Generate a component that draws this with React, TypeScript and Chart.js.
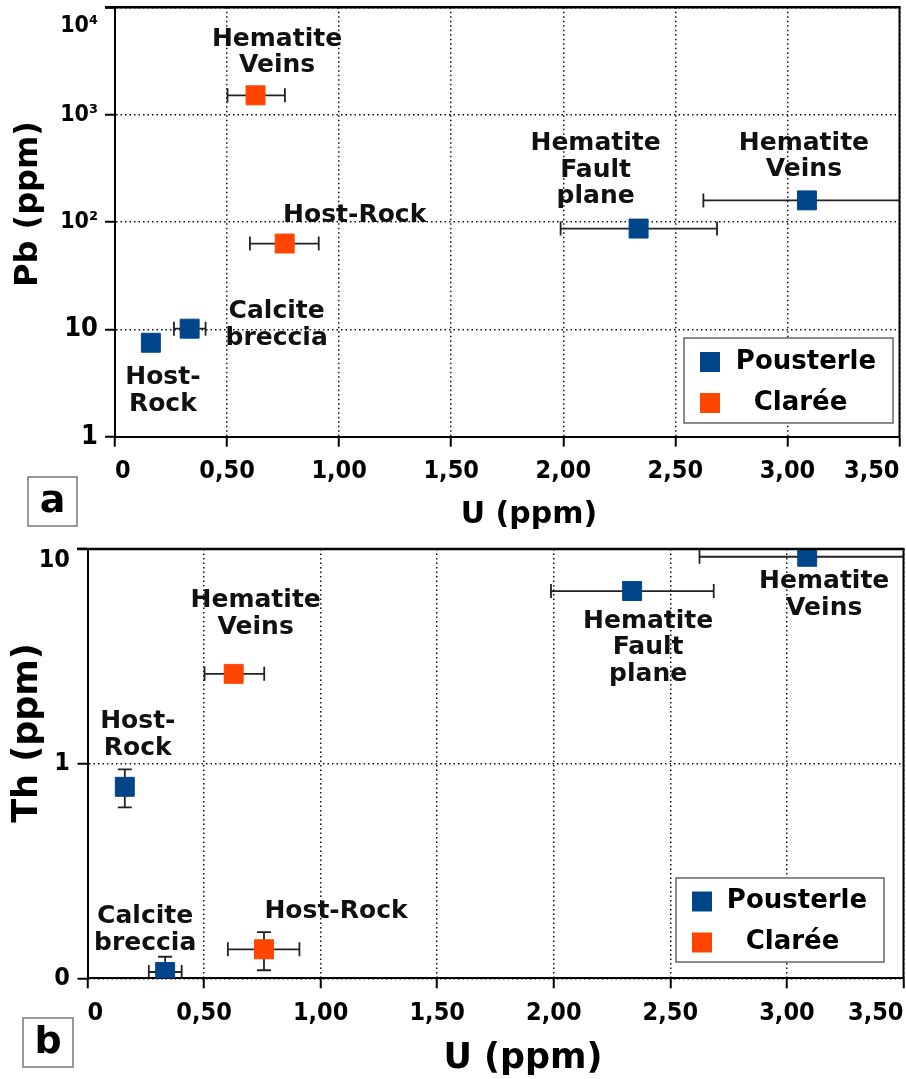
import React, { useEffect, useRef } from 'react';
import { Chart, registerables } from 'chart.js';

Chart.register(...registerables);

// ---------------- data ----------------
const SERIES = ['Pousterle', 'Clarée'];

const U_TICKS = [0, 0.5, 1, 1.5, 2, 2.5, 3, 3.5];
const U_TICK_LABELS = ['0', '0,50', '1,00', '1,50', '2,00', '2,50', '3,00', '3,50'];
const PB_TICKS = [1, 10, 100, 1000, 10000];
const PB_TICK_LABELS = ['1', '10', '10²', '10³', '10⁴'];
const TH_TICKS = [0.1, 1, 10];
const TH_TICK_LABELS = ['0', '1', '10'];

// Pousterle samples
const pousterleLabels = [['Host-', 'Rock'], ['Calcite', 'breccia'], ['Hematite', 'Fault', 'plane'], ['Hematite', 'Veins']];
const pousterleU = [0.16, 0.333, 2.336, 3.087];
const pousterleULow = [null, 0.263, 1.988, 2.625];
const pousterleUHigh = [null, 0.404, 2.686, 3.6];
const pousterlePb = [7.5, 10.15, 86.8, 159];
const pousterlePbLow = [null, null, null, null];
const pousterlePbHigh = [null, null, null, null];
const pousterleTh = [0.78, 0.107, 6.37, 9.2];
const pousterleThLow = [0.625, 0.09, null, null];
const pousterleThHigh = [0.94, 0.126, null, null];

// Clarée samples
const clareeLabels = [['Host-Rock'], ['Hematite', 'Veins']];
const clareeU = [0.757, 0.627];
const clareeULow = [0.602, 0.502];
const clareeUHigh = [0.909, 0.758];
const clareePb = [63, 1514];
const clareePbLow = [null, null];
const clareePbHigh = [null, null];
const clareeTh = [0.1365, 2.62];
const clareeThLow = [0.109, null];
const clareeThHigh = [0.164, null];

// ---------------- styles ----------------
const BLUE = '#00458a';
const ORANGE = '#ff4500';
const TICK_FAMILY = "'DejaVu Sans Condensed', 'DejaVu Sans', sans-serif";
const TEXT_FAMILY = "'DejaVu Sans', sans-serif";
const W = 906;

const PANEL_A = {
  canvasTop: 0,
  height: 540,
  area: { left: 115, right: 899.5, top: 7.3, bottom: 436.7 },
  yMin: 1,
  yMax: 10000,
  yTicks: PB_TICKS,
  yTickLabels: PB_TICK_LABELS,
  pY: pousterlePb, pYLow: pousterlePbLow, pYHigh: pousterlePbHigh,
  cY: clareePb, cYLow: clareePbLow, cYHigh: clareePbHigh,
  pOffsets: [[12, 35], [87, -17], [-43, -85], [-3, -57]],
  cOffsets: [[70, -28], [21.5, -56]],
  yTickSize: (v: number) => (v >= 100 ? 23 : 27),
  topLabelLineHeight: '38px',
  yTickPadding: 7,
  legend: { x: 684, y: 338, w: 209, h: 85, rows: [24, 65], textX: [122, 116.5] },
  xTitle: { text: 'U (ppm)', x: 529, y: 515, size: 30 },
  yTitle: { text: 'Pb (ppm)', x: 29, y: 204, size: 32 },
  letter: { text: 'a', x: 28, y: 477, w: 49, h: 49, size: 38 },
  topBorderFrom: 105,
};

const PANEL_B = {
  canvasTop: 530,
  height: 549,
  area: { left: 87.5, right: 903.5, top: 19, bottom: 448.3 },
  yMin: 0.1,
  yMax: 10,
  yTicks: TH_TICKS,
  yTickLabels: TH_TICK_LABELS,
  pY: pousterleTh, pYLow: pousterleThLow, pYHigh: pousterleThHigh,
  cY: clareeTh, cYLow: clareeThLow, cYHigh: clareeThHigh,
  pOffsets: [[13, -65], [-20, -55], [16, 30], [17, 25]],
  cOffsets: [[72, -38], [22, -73]],
  yTickSize: (_v: number) => 25,
  topLabelLineHeight: '22px',
  yTickPadding: 7.5,
  legend: { x: 676, y: 348, w: 208, h: 84, rows: [23.5, 64.5], textX: [121, 116.5] },
  xTitle: { text: 'U (ppm)', x: 523, y: 529, size: 35 },
  yTitle: { text: 'Th (ppm)', x: 28, y: 203, size: 35 },
  letter: { text: 'b', x: 23, y: 488, w: 50, h: 49, size: 38 },
  topBorderFrom: 77,
};

type Panel = typeof PANEL_A;

function makeSeries(p: Panel) {
  return [
    {
      name: SERIES[0], color: BLUE, u: pousterleU, uLow: pousterleULow, uHigh: pousterleUHigh,
      y: p.pY, yLow: p.pYLow, yHigh: p.pYHigh, labels: pousterleLabels, offsets: p.pOffsets,
    },
    {
      name: SERIES[1], color: ORANGE, u: clareeU, uLow: clareeULow, uHigh: clareeUHigh,
      y: p.cY, yLow: p.cYLow, yHigh: p.cYHigh, labels: clareeLabels, offsets: p.cOffsets,
    },
  ];
}

function makeDecor(p: Panel, series: any[]) {
  return {
    id: 'panelDecor',
    beforeDatasetsDraw(chart: any) {
      const { ctx, chartArea: a } = chart;
      const xs = chart.scales.x;
      const ys = chart.scales.y;
      ctx.save();
      ctx.beginPath();
      ctx.rect(a.left, a.top, a.right - a.left, a.bottom - a.top);
      ctx.clip();
      ctx.strokeStyle = '#222';
      ctx.lineWidth = 1.8;
      const cap = 7;
      series.forEach((s) => {
        s.u.forEach((u: number, i: number) => {
          const px = xs.getPixelForValue(u);
          const py = ys.getPixelForValue(s.y[i]);
          if (s.uLow[i] != null) {
            const x1 = xs.getPixelForValue(s.uLow[i]);
            const x2 = xs.getPixelForValue(s.uHigh[i]);
            ctx.beginPath();
            ctx.moveTo(x1, py); ctx.lineTo(x2, py);
            ctx.moveTo(x1, py - cap); ctx.lineTo(x1, py + cap);
            ctx.moveTo(x2, py - cap); ctx.lineTo(x2, py + cap);
            ctx.stroke();
          }
          if (s.yLow[i] != null) {
            const y1 = ys.getPixelForValue(s.yLow[i]);
            const y2 = ys.getPixelForValue(s.yHigh[i]);
            ctx.beginPath();
            ctx.moveTo(px, y1); ctx.lineTo(px, y2);
            ctx.moveTo(px - cap, y1); ctx.lineTo(px + cap, y1);
            ctx.moveTo(px - cap, y2); ctx.lineTo(px + cap, y2);
            ctx.stroke();
          }
        });
      });
      ctx.restore();
    },
    afterDatasetsDraw(chart: any) {
      const { ctx } = chart;
      const xs = chart.scales.x;
      const ys = chart.scales.y;
      ctx.save();
      ctx.fillStyle = '#111';
      ctx.font = `bold 25px ${TEXT_FAMILY}`;
      ctx.textAlign = 'center';
      ctx.textBaseline = 'middle';
      series.forEach((s) => {
        s.u.forEach((u: number, i: number) => {
          const px = xs.getPixelForValue(u);
          const py = ys.getPixelForValue(s.y[i]);
          const [dx, dy] = s.offsets[i];
          s.labels[i].forEach((line: string, j: number) => {
            ctx.fillText(line, px + dx, py + dy + j * 26.5);
          });
        });
      });
      ctx.restore();
    },
    afterDraw(chart: any) {
      const { ctx, chartArea: a } = chart;
      ctx.save();
      // frame (top and right)
      ctx.strokeStyle = '#000';
      ctx.lineWidth = 2.5;
      ctx.beginPath();
      ctx.moveTo(p.topBorderFrom, a.top);
      ctx.lineTo(a.right + 1, a.top);
      ctx.stroke();
      ctx.lineWidth = 2;
      ctx.beginPath();
      ctx.moveTo(a.right, a.top);
      ctx.lineTo(a.right, a.bottom);
      ctx.stroke();

      // legend
      const L = p.legend;
      ctx.fillStyle = '#fff';
      ctx.fillRect(L.x, L.y, L.w, L.h);
      ctx.strokeStyle = '#666';
      ctx.lineWidth = 1.5;
      ctx.strokeRect(L.x, L.y, L.w, L.h);
      ctx.font = `bold 26px ${TEXT_FAMILY}`;
      ctx.textAlign = 'center';
      ctx.textBaseline = 'middle';
      series.forEach((s, k) => {
        const cy = L.y + L.rows[k];
        ctx.fillStyle = s.color;
        ctx.fillRect(L.x + 16, cy - 10, 20, 20);
        ctx.fillStyle = '#000';
        ctx.fillText(s.name, L.x + L.textX[k], cy);
      });

      // axis titles
      ctx.fillStyle = '#000';
      ctx.font = `bold ${p.xTitle.size}px ${TEXT_FAMILY}`;
      ctx.fillText(p.xTitle.text, p.xTitle.x, p.xTitle.y);
      ctx.save();
      ctx.translate(p.yTitle.x, p.yTitle.y);
      ctx.rotate(-Math.PI / 2);
      ctx.font = `bold ${p.yTitle.size}px ${TEXT_FAMILY}`;
      ctx.fillText(p.yTitle.text, 0, 0);
      ctx.restore();

      // panel letter
      const B = p.letter;
      ctx.strokeStyle = '#777';
      ctx.lineWidth = 1.5;
      ctx.strokeRect(B.x, B.y, B.w, B.h);
      ctx.fillStyle = '#000';
      ctx.font = `bold ${B.size}px ${TEXT_FAMILY}`;
      ctx.fillText(B.text, B.x + B.w / 2, B.y + B.h / 2 + 1);
      ctx.restore();
    },
  };
}

function buildChart(canvas: HTMLCanvasElement, p: Panel) {
  const series = makeSeries(p);
  const H = p.height;
  const datasets = series.map((s) => ({
    label: s.name,
    data: s.u.map((u: number, i: number) => ({ x: u, y: s.y[i] })),
    backgroundColor: s.color,
    borderColor: s.color,
    borderWidth: 1,
    pointStyle: 'rect',
    pointRadius: 13.4,
    pointHoverRadius: 13.4,
    showLine: false,
  }));
  const gridCommon = {
    color: '#111',
    lineWidth: 1.5,
    tickLength: 10,
    tickWidth: 2,
    tickColor: '#000',
    tickBorderDash: [],
  };
  const borderCommon = { display: true, color: '#000', width: 2, dash: [1.5, 3] };
  return new Chart(canvas, {
    type: 'scatter',
    data: { datasets } as any,
    options: {
      responsive: false,
      animation: false,
      devicePixelRatio: 1,
      events: [],
      layout: {
        autoPadding: false,
        padding: { top: p.area.top, left: 0, right: W - p.area.right, bottom: 0 },
      },
      plugins: { legend: { display: false }, tooltip: { enabled: false } },
      scales: {
        x: {
          type: 'linear',
          min: 0,
          max: 3.5,
          afterBuildTicks: (s: any) => {
            s.ticks = U_TICKS.map((v) => ({ value: v }));
          },
          afterFit: (s: any) => {
            s.height = H - p.area.bottom;
            s.paddingLeft = 0;
            s.paddingRight = 0;
          },
          ticks: {
            callback: (v: any) => U_TICK_LABELS[U_TICKS.indexOf(Number(v))],
            align: 'inner',
            padding: 10,
            color: '#000',
            autoSkip: false,
            maxRotation: 0,
            font: { family: TICK_FAMILY, weight: 'bold', size: 25 },
          },
          grid: gridCommon,
          border: borderCommon,
        },
        y: {
          type: 'logarithmic',
          min: p.yMin,
          max: p.yMax,
          afterBuildTicks: (s: any) => {
            s.ticks = p.yTicks.map((v) => ({ value: v }));
          },
          afterFit: (s: any) => {
            s.width = p.area.left;
            s.paddingTop = 0;
            s.paddingBottom = 0;
          },
          ticks: {
            callback: (v: any) => {
              const i = p.yTicks.indexOf(Number(v));
              const lab = p.yTickLabels[i];
              return Number(v) === p.yMax ? ['', lab] : lab;
            },
            padding: p.yTickPadding,
            color: '#000',
            autoSkip: false,
            font: (ctx: any) => {
              const v = ctx.tick ? ctx.tick.value : 1;
              return {
                family: TICK_FAMILY,
                weight: 'bold',
                size: p.yTickSize(v),
                lineHeight: v === p.yMax ? p.topLabelLineHeight : 1.2,
              };
            },
          },
          grid: gridCommon,
          border: borderCommon,
        },
      },
    } as any,
    plugins: [makeDecor(p, series)],
  });
}

function PanelChart({ panel }: { panel: Panel }) {
  const ref = useRef<HTMLCanvasElement | null>(null);
  useEffect(() => {
    if (!ref.current) return;
    const chart = buildChart(ref.current, panel);
    return () => chart.destroy();
  }, [panel]);
  return (
    <canvas
      ref={ref}
      width={W}
      height={panel.height}
      style={{ position: 'absolute', left: 0, top: panel.canvasTop, width: W, height: panel.height }}
    />
  );
}

export default function App() {
  return (
    <div style={{ position: 'absolute', left: 0, top: 0, width: W, height: 1079, background: '#fff' }}>
      <PanelChart panel={PANEL_A} />
      <PanelChart panel={PANEL_B} />
    </div>
  );
}
